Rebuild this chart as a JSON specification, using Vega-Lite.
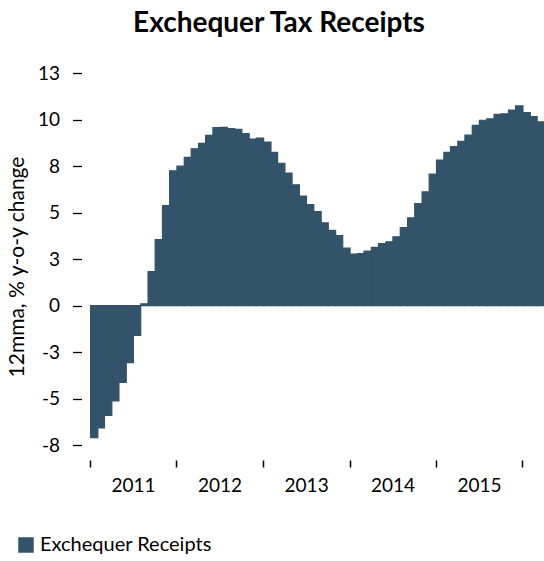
{
  "$schema": "https://vega.github.io/schema/vega-lite/v6.json",
  "autosize": {"type": "none"},
  "width": 454,
  "height": 387,
  "padding": {"left": 90, "top": 73, "right": 0, "bottom": 101},
  "background": "white",
  "config": {
    "view": {"stroke": null},
    "font": "Lato",
    "axis": {"grid": false, "domain": false, "tickColor": "black", "labelColor": "black", "titleColor": "black", "labelFont": "Lato", "titleFont": "Lato"}
  },
  "title": {
    "text": "Exchequer Tax Receipts",
    "font": "Lato",
    "fontSize": 28,
    "fontWeight": "bold",
    "color": "black",
    "anchor": "middle",
    "frame": "group",
    "dx": -38,
    "offset": 26
  },
  "data": {
    "values": [
      {"date": "2011-01-01", "value": -7.10},
      {"date": "2011-02-01", "value": -6.58},
      {"date": "2011-03-01", "value": -5.90},
      {"date": "2011-04-01", "value": -5.12},
      {"date": "2011-05-01", "value": -4.13},
      {"date": "2011-06-01", "value": -3.07},
      {"date": "2011-07-01", "value": -1.60},
      {"date": "2011-08-01", "value": 0.09},
      {"date": "2011-09-01", "value": 1.83},
      {"date": "2011-10-01", "value": 3.54},
      {"date": "2011-11-01", "value": 5.37},
      {"date": "2011-12-01", "value": 7.24},
      {"date": "2012-01-01", "value": 7.49},
      {"date": "2012-02-01", "value": 7.96},
      {"date": "2012-03-01", "value": 8.43},
      {"date": "2012-04-01", "value": 8.72},
      {"date": "2012-05-01", "value": 9.15},
      {"date": "2012-06-01", "value": 9.56},
      {"date": "2012-07-01", "value": 9.58},
      {"date": "2012-08-01", "value": 9.51},
      {"date": "2012-09-01", "value": 9.47},
      {"date": "2012-10-01", "value": 9.24},
      {"date": "2012-11-01", "value": 8.95},
      {"date": "2012-12-01", "value": 9.00},
      {"date": "2013-01-01", "value": 8.79},
      {"date": "2013-02-01", "value": 8.23},
      {"date": "2013-03-01", "value": 7.65},
      {"date": "2013-04-01", "value": 7.12},
      {"date": "2013-05-01", "value": 6.49},
      {"date": "2013-06-01", "value": 5.89},
      {"date": "2013-07-01", "value": 5.43},
      {"date": "2013-08-01", "value": 5.05},
      {"date": "2013-09-01", "value": 4.44},
      {"date": "2013-10-01", "value": 4.04},
      {"date": "2013-11-01", "value": 3.76},
      {"date": "2013-12-01", "value": 3.09},
      {"date": "2014-01-01", "value": 2.77},
      {"date": "2014-02-01", "value": 2.80},
      {"date": "2014-03-01", "value": 2.93},
      {"date": "2014-04-01", "value": 3.13},
      {"date": "2014-05-01", "value": 3.33},
      {"date": "2014-06-01", "value": 3.43},
      {"date": "2014-07-01", "value": 3.70},
      {"date": "2014-08-01", "value": 4.19},
      {"date": "2014-09-01", "value": 4.71},
      {"date": "2014-10-01", "value": 5.48},
      {"date": "2014-11-01", "value": 6.11},
      {"date": "2014-12-01", "value": 7.06},
      {"date": "2015-01-01", "value": 7.82},
      {"date": "2015-02-01", "value": 8.23},
      {"date": "2015-03-01", "value": 8.55},
      {"date": "2015-04-01", "value": 8.82},
      {"date": "2015-05-01", "value": 9.16},
      {"date": "2015-06-01", "value": 9.69},
      {"date": "2015-07-01", "value": 9.96},
      {"date": "2015-08-01", "value": 10.04},
      {"date": "2015-09-01", "value": 10.28},
      {"date": "2015-10-01", "value": 10.31},
      {"date": "2015-11-01", "value": 10.51},
      {"date": "2015-12-01", "value": 10.73},
      {"date": "2016-01-01", "value": 10.37},
      {"date": "2016-02-01", "value": 10.15},
      {"date": "2016-03-01", "value": 9.87}
    ]
  },
  "mark": {"type": "bar", "clip": true, "binSpacing": 0, "stroke": "#33536a", "strokeWidth": 1.2},
  "encoding": {
    "x": {
      "field": "date",
      "timeUnit": "utcyearmonth",
      "type": "temporal",
      "title": null,
      "scale": {
        "type": "utc",
        "domain": [
          {"year": 2011, "month": 1, "date": 1, "utc": true},
          {"year": 2016, "month": 4, "date": 1, "utc": true}
        ]
      },
      "axis": {
        "values": [
          {"year": 2011, "month": 1, "date": 1, "utc": true},
          {"year": 2012, "month": 1, "date": 1, "utc": true},
          {"year": 2013, "month": 1, "date": 1, "utc": true},
          {"year": 2014, "month": 1, "date": 1, "utc": true},
          {"year": 2015, "month": 1, "date": 1, "utc": true},
          {"year": 2016, "month": 1, "date": 1, "utc": true}
        ],
        "labelExpr": "utcyear(datum.value) >= 2016 ? '' : utcFormat(datum.value, '%Y')",
        "labelOffset": 43,
        "labelAlign": "center",
        "labelFlush": false,
        "labelOverlap": false,
        "labelBound": false,
        "tickSize": 7,
        "tickWidth": 1.5,
        "labelFontSize": 19,
        "labelPadding": 9
      }
    },
    "y": {
      "field": "value",
      "type": "quantitative",
      "title": "12mma, % y-o-y change",
      "scale": {"domain": [-8.3, 12.5], "nice": false, "zero": false},
      "axis": {
        "values": [-7.5, -5, -2.5, 0, 2.5, 5, 7.5, 10, 12.5],
        "labelExpr": "(datum.value < 0 ? '-' : '') + toString(round(abs(datum.value)))",
        "offset": 8.5,
        "tickSize": 9,
        "tickWidth": 1.3,
        "labelFontSize": 19,
        "labelPadding": 13,
        "titleFontSize": 21,
        "titleFontWeight": "normal",
        "titlePadding": 10
      }
    },
    "color": {
      "datum": "Exchequer Receipts",
      "type": "nominal",
      "scale": {"range": ["#33536a"]},
      "legend": {
        "title": null,
        "orient": "none",
        "legendX": -74,
        "legendY": 462,
        "symbolType": "square",
        "symbolSize": 240,
        "symbolStrokeWidth": 0,
        "labelFontSize": 20,
        "labelLimit": 0,
        "labelColor": "black",
        "labelFont": "Lato",
        "labelOffset": 4
      }
    }
  }
}
